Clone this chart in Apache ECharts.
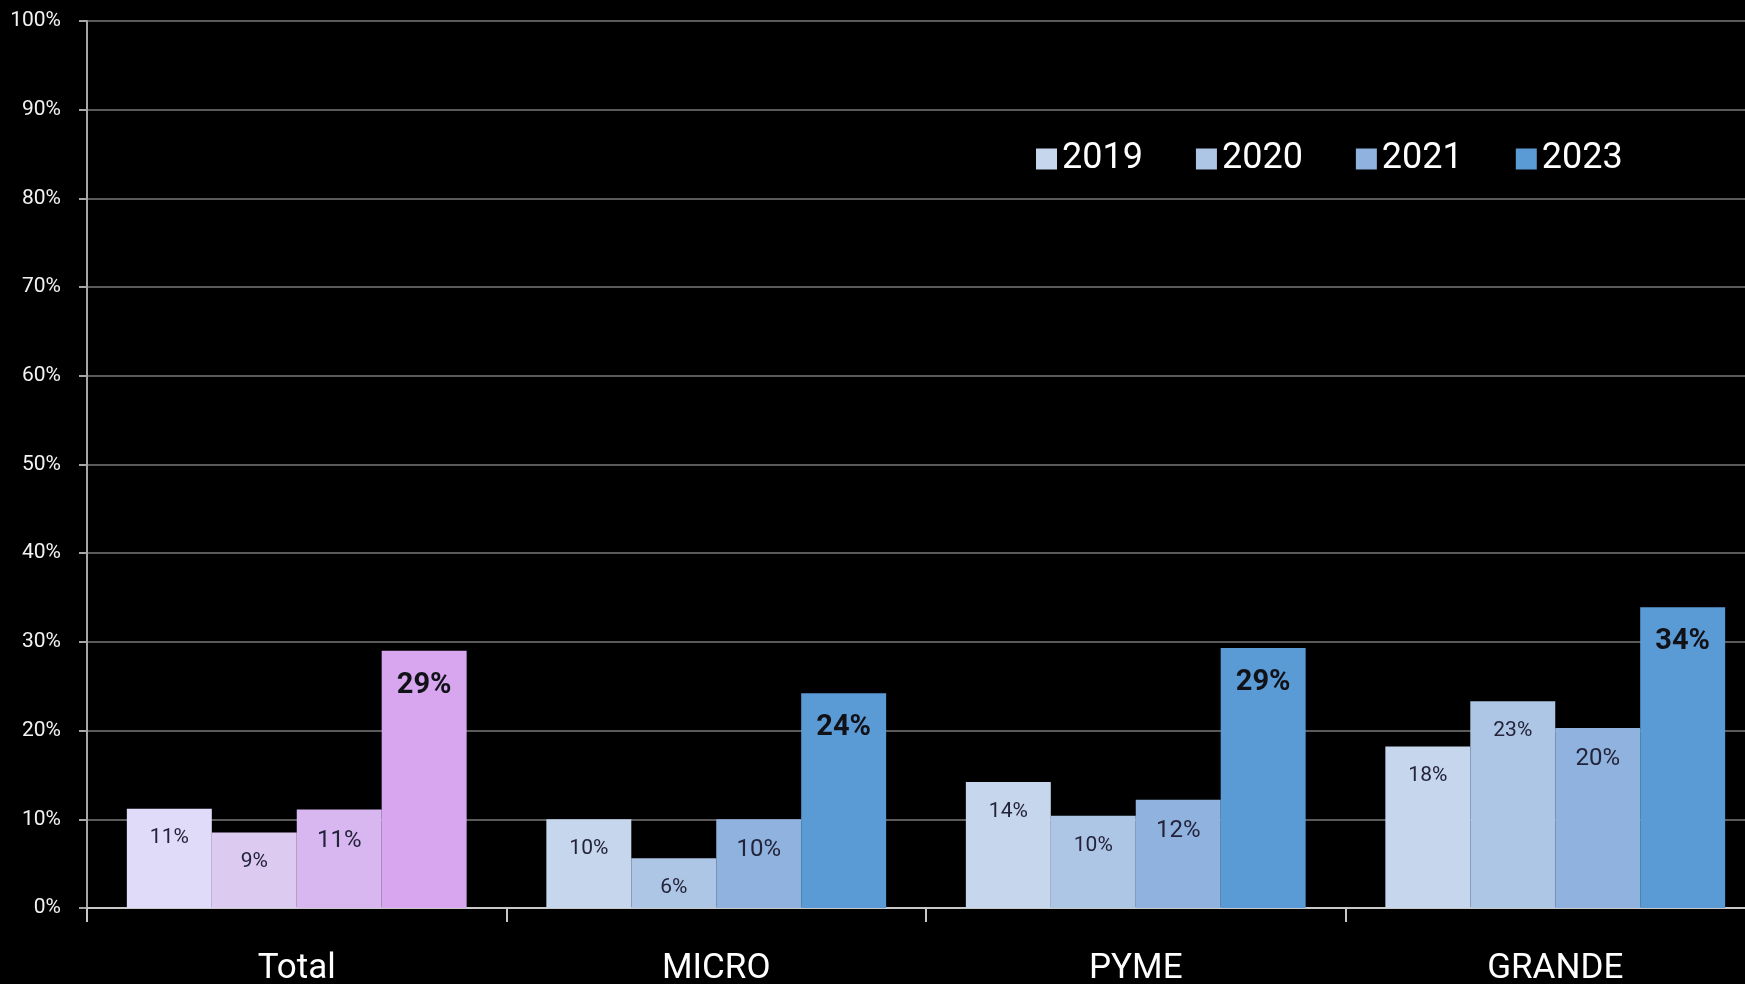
<!DOCTYPE html>
<html>
<head>
<meta charset="utf-8">
<style>
  html, body { margin: 0; padding: 0; background: #000; }
  #Chart { width: 1745px; height: 984px; }
</style>
<script src="https://cdn.jsdelivr.net/npm/echarts@6/dist/echarts.min.js"></script>
</head>
<body>
<div id="Chart"></div>
<script>
var categories = ['Total', 'MICRO', 'PYME', 'GRANDE'];
var years = ['2019', '2020', '2021', '2023'];
var yTicks = [0, 10, 20, 30, 40, 50, 60, 70, 80, 90, 100];

var values2019 = [11.2, 10.0, 14.2, 18.2];
var values2020 = [8.5, 5.6, 10.4, 23.3];
var values2021 = [11.1, 10.0, 12.2, 20.3];
var values2023 = [29.0, 24.2, 29.3, 33.9];

var blueColors = ['#c6d6ec', '#aec6e6', '#8fb2de', '#5b9bd5'];
var purpleColors = ['#e1dbfa', '#dccaf1', '#d8b7f1', '#d7a6ef'];

var FONT = "'Roboto', 'Noto Sans', sans-serif";

var allValues = [values2019, values2020, values2021, values2023];

function makeSeries(idx) {
    var bold = idx === 3;
    var data = allValues[idx].map(function (v, i) {
        var item = { value: v };
        if (i === 0) {
            item.itemStyle = { color: purpleColors[idx] };
        }
        return item;
    });
    return {
        name: years[idx],
        type: 'bar',
        barGap: 0,
        barCategoryGap: '19%',
        color: blueColors[idx],
        data: data,
        label: {
            show: true,
            position: 'insideTop',
            distance: bold ? 20 : 19,
            color: bold ? '#111118' : '#23233a',
            fontFamily: FONT,
            fontSize: bold ? 29 : (idx === 2 ? 24 : 21),
            fontWeight: bold ? 'bold' : 'normal',
            formatter: function (p) { return Math.round(p.value) + '%'; }
        }
    };
}

var Chart = echarts.init(document.getElementById('Chart'));

var ChartOption = {
    backgroundColor: '#000000',
    animation: false,
    textStyle: { fontFamily: FONT },
    legend: {
        left: 1031,
        top: 136,
        icon: 'rect',
        itemWidth: 21,
        itemHeight: 21,
        itemGap: 53,
        itemTextGap: 8,
        data: years,
        textStyle: {
            color: '#ffffff',
            fontFamily: FONT,
            fontSize: 36,
            width: 84
        }
    },
    grid: {
        left: 87,
        top: 21,
        width: 1678,
        height: 887,
        outerBoundsMode: 'none'
    },
    xAxis: {
        type: 'category',
        data: categories,
        axisLine: { lineStyle: { color: '#c8c8c8', width: 2 } },
        axisTick: { show: true, length: 14, lineStyle: { color: '#c8c8c8', width: 2 } },
        axisLabel: {
            color: '#ffffff',
            fontFamily: FONT,
            fontSize: 35,
            margin: 44
        }
    },
    yAxis: {
        type: 'value',
        min: yTicks[0],
        max: yTicks[yTicks.length - 1],
        interval: 10,
        axisLine: { show: true, lineStyle: { color: '#a6a6a6', width: 2 } },
        axisTick: { show: true, length: 8, lineStyle: { color: '#a6a6a6', width: 2 } },
        splitLine: { lineStyle: { color: '#5a5a5a', width: 2 } },
        axisLabel: {
            color: '#f2f2f2',
            fontFamily: FONT,
            fontSize: 21,
            margin: 26,
            formatter: '{value}%'
        }
    },
    series: [makeSeries(0), makeSeries(1), makeSeries(2), makeSeries(3)]
};

Chart.setOption(ChartOption);

window.addEventListener("resize", function () {
    Chart.resize();
});
</script>
</body>
</html>
